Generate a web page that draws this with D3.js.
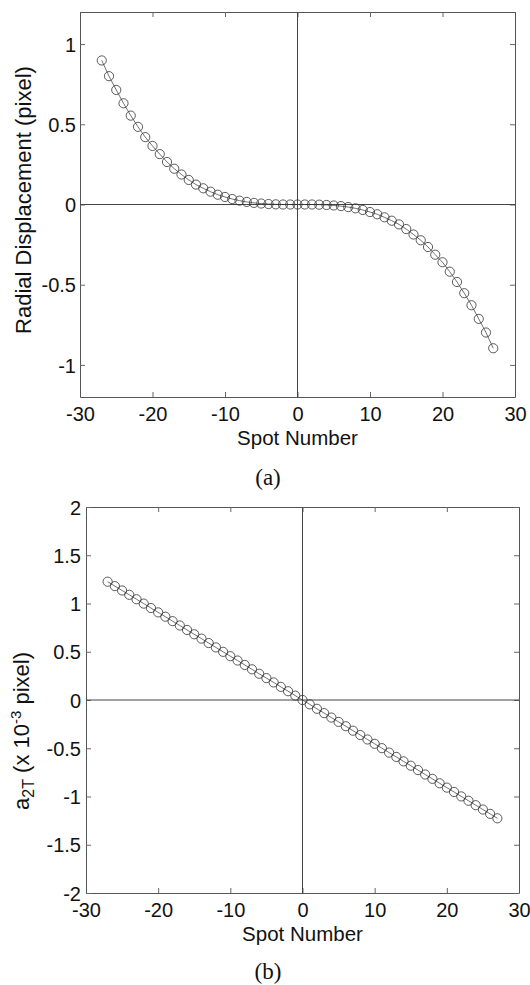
<!DOCTYPE html>
<html><head><meta charset="utf-8">
<script src="https://cdn.jsdelivr.net/npm/d3@7"></script>
<style>body{margin:0;background:#fff}</style>
</head><body>
<svg id="c" width="530" height="985"></svg>
<script>
// ---- data ----
const spots = [-27,-26,-25,-24,-23,-22,-21,-20,-19,-18,-17,-16,-15,-14,-13,-12,-11,-10,-9,-8,-7,-6,-5,-4,-3,-2,-1,
  0,1,2,3,4,5,6,7,8,9,10,11,12,13,14,15,16,17,18,19,20,21,22,23,24,25,26,27];
const radialDisp = [0.898,0.800,0.714,0.631,0.554,0.484,0.420,0.365,0.314,0.265,0.223,0.187,0.153,0.124,0.101,0.080,0.061,0.047,0.034,0.024,0.016,0.010,0.006,0.003,0.001,0.000,0.000,
  0.000,0.000,-0.000,-0.001,-0.003,-0.006,-0.010,-0.016,-0.024,-0.034,-0.047,-0.061,-0.080,-0.101,-0.124,-0.153,-0.187,-0.223,-0.265,-0.313,-0.360,-0.419,-0.483,-0.553,-0.628,-0.713,-0.798,-0.896];
const a2T = [1.226,1.180,1.135,1.090,1.044,0.999,0.953,0.908,0.863,0.817,0.772,0.726,0.681,0.636,0.590,0.545,0.499,0.454,0.409,0.363,0.318,0.272,0.227,0.182,0.136,0.091,0.045,
  0.000,-0.045,-0.091,-0.136,-0.182,-0.227,-0.272,-0.318,-0.363,-0.409,-0.454,-0.499,-0.545,-0.590,-0.636,-0.681,-0.726,-0.772,-0.817,-0.863,-0.908,-0.953,-0.999,-1.044,-1.090,-1.135,-1.180,-1.226];
const xTicks = [-30,-20,-10,0,10,20,30];
const yTicksA = [-1,-0.5,0,0.5,1];
const yTicksB = [-2,-1.5,-1,-0.5,0,0.5,1,1.5,2];

const svg = d3.select("#c");
const SANS = "'Liberation Sans', Arial, Helvetica, sans-serif";
const SERIF = "'Liberation Serif', 'Times New Roman', serif";

function panel(cfg){
  const g = svg.append("g");
  const x = d3.scaleLinear().domain([-30,30]).range([cfg.left, cfg.right]);
  const y = d3.scaleLinear().domain(cfg.ydom).range([cfg.bottom, cfg.top]);
  const fmt = d => String(d);
  const axColor = "#555";

  const gb = g.append("g").attr("transform",`translate(0,${cfg.bottom})`)
    .call(d3.axisBottom(x).tickValues(xTicks).tickSizeInner(-5).tickSizeOuter(0).tickFormat(fmt));
  gb.selectAll("text").attr("dy",null).attr("y",24);
  const gt = g.append("g").attr("transform",`translate(0,${cfg.top})`)
    .call(d3.axisTop(x).tickValues(xTicks).tickSizeInner(-5).tickSizeOuter(0).tickFormat(""));
  const gl = g.append("g").attr("transform",`translate(${cfg.left},0)`)
    .call(d3.axisLeft(y).tickValues(cfg.yticks).tickSizeInner(-5).tickSizeOuter(0).tickFormat(fmt));
  gl.selectAll("text").attr("x",-cfg.ypad).attr("dy","0.36em");
  const gr = g.append("g").attr("transform",`translate(${cfg.right},0)`)
    .call(d3.axisRight(y).tickValues(cfg.yticks).tickSizeInner(-5).tickSizeOuter(0).tickFormat(""));

  [gb,gt,gl,gr].forEach(a=>{
    a.select(".domain").attr("stroke",axColor).attr("stroke-width",1);
    a.selectAll(".tick line").attr("stroke","#666").attr("stroke-width",1);
    a.selectAll("text").attr("fill","#111").style("font-family",SANS).style("font-size","20px");
  });

  g.append("line").attr("x1",x(0)).attr("x2",x(0)).attr("y1",cfg.top).attr("y2",cfg.bottom)
    .attr("stroke","#444").attr("stroke-width",1);
  g.append("line").attr("x1",cfg.left).attr("x2",cfg.right).attr("y1",y(0)).attr("y2",y(0))
    .attr("stroke","#444").attr("stroke-width",1);

  const pts = spots.map((s,i)=>[s,cfg.values[i]]);
  g.append("path").datum(pts)
    .attr("d", d3.line().x(d=>x(d[0])).y(d=>y(d[1])))
    .attr("fill","none").attr("stroke","#333").attr("stroke-width",0.7);
  g.selectAll("circle.pt").data(pts).join("circle").attr("class","pt")
    .attr("cx",d=>x(d[0])).attr("cy",d=>y(d[1])).attr("r",4.6)
    .attr("fill","none").attr("stroke","#333").attr("stroke-width",0.8);

  g.append("text").attr("x",(cfg.left+cfg.right)/2).attr("y",cfg.bottom+48)
    .attr("text-anchor","middle").style("font-family",SANS).style("font-size","20.5px")
    .attr("fill","#111").text("Spot Number");
  g.append("text").attr("x",268).attr("y",cfg.bottom+cfg.capOff)
    .attr("text-anchor","middle").style("font-family",SERIF).style("font-size","23px")
    .attr("fill","#111").text(cfg.caption);
  return {g,x,y};
}

const pa = panel({left:80,right:515,top:12,bottom:397,ydom:[-1.2,1.2],yticks:yTicksA,ypad:4,values:radialDisp,caption:"(a)",capOff:88});
pa.g.append("text").attr("transform","translate(30.5,200) rotate(-90)")
  .attr("text-anchor","middle").style("font-family",SANS).style("font-size","22px")
  .attr("fill","#111").text("Radial Displacement (pixel)");

const pb = panel({left:86,right:519,top:507,bottom:893,ydom:[-2,2],yticks:yTicksB,ypad:5,values:a2T,caption:"(b)",capOff:86});
const yl = pb.g.append("text").attr("transform","translate(28.5,731) rotate(-90)")
  .attr("text-anchor","middle").style("font-family",SANS).style("font-size","22px").attr("fill","#111");
yl.append("tspan").text("a");
yl.append("tspan").attr("dy",5).style("font-size","16px").text("2T");
yl.append("tspan").attr("dy",-5).text(" (x 10");
yl.append("tspan").attr("dy",-8).style("font-size","15px").text("-3");
yl.append("tspan").attr("dy",8).text(" pixel)");
</script>
</body></html>
